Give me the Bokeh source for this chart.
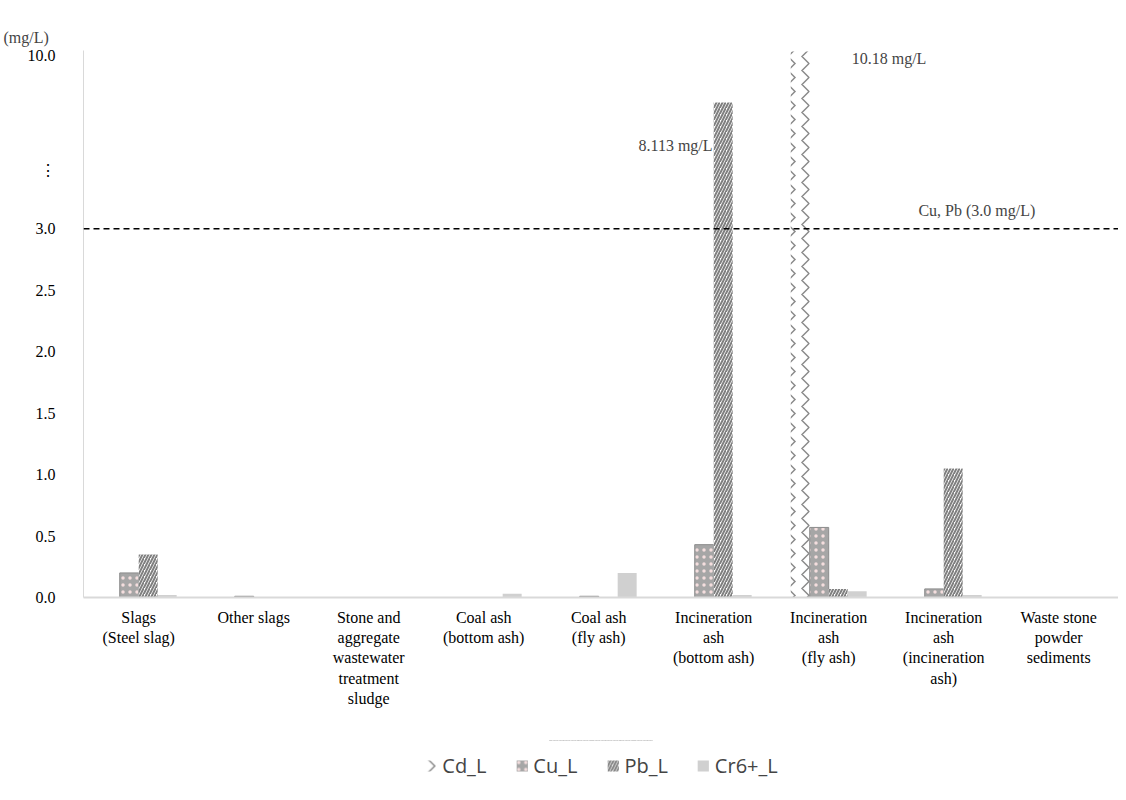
from bokeh.embed import file_html
from bokeh.layouts import column
from bokeh.models import ColumnDataSource, FixedTicker, Label, Legend, LegendItem, Range1d, Span
from bokeh.plotting import figure
from bokeh.resources import INLINE

categories = ["Slags\n(Steel slag)", "Other slags", "Stone and\naggregate\nwastewater\ntreatment\nsludge",
              "Coal ash\n(bottom ash)", "Coal ash\n(fly ash)", "Incineration\nash\n(bottom ash)",
              "Incineration\nash\n(fly ash)", "Incineration\nash\n(incineration\nash)", "Waste stone\npowder\nsediments"]
cd = [0, 0, 0, 0, 0, 0, 10.18, 0, 0]
cu = [0.20, 0.01, 0, 0, 0.01, 0.43, 0.57, 0.07, 0]
pb = [0.35, 0, 0, 0, 0, 8.113, 0.07, 1.05, 0]
cr = [0.02, 0, 0, 0.03, 0.20, 0.02, 0.05, 0.02, 0]
y_ticks = [0, 0.5, 1.0, 1.5, 2.0, 2.5, 3.0]
limit = 3.0

# broken axis: linear up to 3, compressed above
SQ = 24.7 / 123.0


def tr(v):
    return v if v <= 3 else 3 + (v - 3) * SQ


SERIF = "Liberation Serif"
p = figure(width=1118, height=740, output_backend="svg", toolbar_location=None,
           x_range=Range1d(0, 9), y_range=Range1d(0, 4.45),
           title="(mg/L)", min_border_left=83, min_border_right=0, min_border_top=50, min_border_bottom=143)
p.title.text_font = SERIF
p.title.text_font_style = "normal"
p.title.text_font_size = "16px"
p.title.offset = -80
p.outline_line_color = None
p.grid.visible = False

w = 0.165
xs = [i + 0.48 for i in range(9)]
src = lambda vals, off: ColumnDataSource(dict(x=[x + off * w for x in xs], top=[tr(v) for v in vals]))
styles = [
    dict(fill_color="white", hatch_pattern="vertical_wave", hatch_color="#8c8c8c", hatch_scale=14,
         hatch_weight=1.5, line_color=None),
    dict(fill_color="#a6a6a6", hatch_pattern="dot", hatch_color="#f4dede", hatch_scale=7, line_color="#8c8c8c"),
    dict(fill_color="white", hatch_pattern="right_diagonal_line", hatch_color="#808080", hatch_scale=6,
         hatch_weight=2, line_color=None),
    dict(fill_color="#d0d0d0", line_color=None),
]
for vals, off, st in zip([cd, cu, pb, cr], [-1.5, -0.5, 0.5, 1.5], styles):
    p.vbar(x="x", top="top", source=src(vals, off), width=w, **st)

p.add_layout(Span(location=limit, dimension="width", line_color="black", line_dash="6 4", line_width=1.5))

ticks = y_ticks + [tr(10.0), 3.47]
labels = {t: f"{t:.1f}" for t in y_ticks}
labels[tr(10.0)] = "10.0"
labels[3.47] = "⋮"
p.yaxis.ticker = FixedTicker(ticks=ticks)
p.yaxis.major_label_overrides = labels
p.xaxis.ticker = FixedTicker(ticks=xs)
p.xaxis.major_label_overrides = {x: c for x, c in zip(xs, categories)}
for ax in (p.xaxis, p.yaxis):
    ax.major_tick_line_color = None
    ax.minor_tick_line_color = None
    ax.axis_line_color = "#d9d9d9"
    ax.major_label_text_font = SERIF
    ax.major_label_text_font_size = "16px"
    ax.major_label_text_color = "black"
p.xaxis.axis_line_width = 2
p.yaxis.major_label_standoff = 22

p.add_layout(Label(x=5.47, y=tr(8.113) - 0.35, text="8.113 mg/L", text_align="right", text_baseline="middle",
                   text_font=SERIF, text_font_size="16px"))
p.add_layout(Label(x=6.68, y=tr(10.0) - 0.02, text="10.18 mg/L", text_baseline="middle",
                   text_font=SERIF, text_font_size="16px"))
p.add_layout(Label(x=7.26, y=limit + 0.15, text="Cu, Pb (3.0 mg/L)", text_baseline="middle",
                   text_font=SERIF, text_font_size="16px"))

# legend in a separate strip below the chart
lg = figure(width=1118, height=50, output_backend="svg", toolbar_location=None,
            x_range=Range1d(0, 1), y_range=Range1d(0, 1), min_border=0)
lg.axis.visible = False
lg.grid.visible = False
lg.outline_line_color = None
items = []
for name, st in zip(["Cd_L", "Cu_L", "Pb_L", "Cr6+_L"], styles):
    st = dict(st, line_color=None)
    r = lg.vbar(x=[0.5], top=[50], bottom=[40], width=0.1, **st)
    items.append(LegendItem(label=name, renderers=[r]))
lg.add_layout(Legend(items=items, orientation="horizontal", location="center", label_text_font="Open Sans",
                     label_text_font_size="20px", glyph_width=14, glyph_height=14, spacing=28,
                     border_line_color=None, background_fill_alpha=0))

open("out.html", "w").write(file_html(column(p, lg), INLINE))
